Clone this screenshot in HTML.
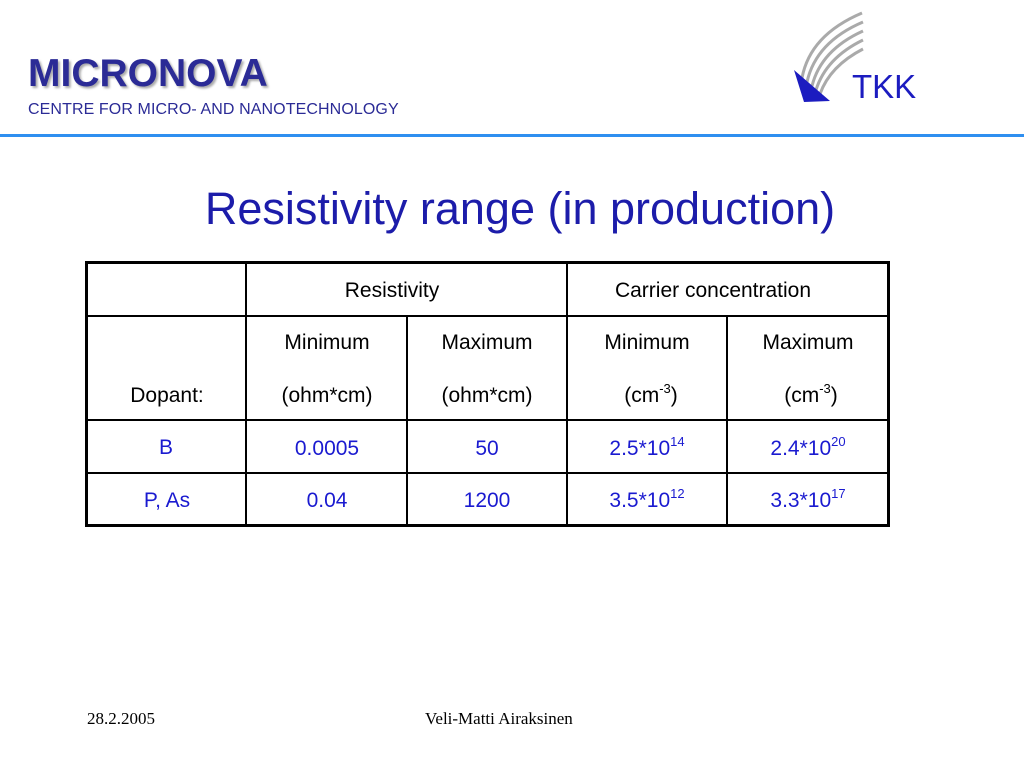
<!DOCTYPE html>
<html><head><meta charset="utf-8"><style>
body{margin:0;width:1024px;height:768px;background:#fff;position:relative;overflow:hidden;font-family:"Liberation Sans",Arial,sans-serif}
.a{position:absolute}
.t{position:absolute;font-size:21px;color:#000;text-align:center;white-space:nowrap;transform:translateX(-50%)}
.b{color:#1a1ad0}
.h{position:absolute;background:#000}
sup{font-size:13px;vertical-align:9px;line-height:0}
</style></head><body>
<div class="a" style="left:28px;top:52px;font-size:39px;font-weight:bold;color:#2b2b96;text-shadow:2px 2px 2px #aaa;letter-spacing:0px">MICRONOVA</div>
<div class="a" style="left:28px;top:101px;font-size:16px;color:#2b2b96;letter-spacing:0.1px;text-transform:uppercase">Centre for Micro- and Nanotechnology</div>
<div class="a" style="left:0;top:134px;width:1024px;height:3px;background:#2f8ff0"></div>
<svg class="a" style="left:790px;top:10px" width="75" height="95" viewBox="0 0 75 95">
<g fill="none" stroke="#aaa" stroke-width="3">
<path d="M12 68 Q20 25 72 3"/><path d="M17 72 Q26 32 73 12"/><path d="M22 76 Q31 40 73 21"/><path d="M26 80 Q36 48 73 30"/><path d="M30 84 Q40 56 73 39"/></g>
<polygon points="4,60 40,91 14,92" fill="#1c1cc0"/></svg>
<div class="a" style="left:852px;top:68px;font-size:33px;color:#1c1cc0">TKK</div>
<div class="a" style="left:0;width:1040px;top:183px;text-align:center;font-size:45px;color:#1c1caa">Resistivity range (in production)</div>

<div>
<div class="h" style="left:85px;top:261px;width:805px;height:3px"></div>
<div class="h" style="left:85px;top:315px;width:805px;height:2px"></div>
<div class="h" style="left:85px;top:419px;width:805px;height:2px"></div>
<div class="h" style="left:85px;top:472px;width:805px;height:2px"></div>
<div class="h" style="left:85px;top:524px;width:805px;height:3px"></div>
<div class="h" style="left:85px;top:261px;width:3px;height:266px"></div>
<div class="h" style="left:245px;top:261px;width:2px;height:266px"></div>
<div class="h" style="left:406px;top:315px;width:2px;height:212px"></div>
<div class="h" style="left:566px;top:261px;width:2px;height:266px"></div>
<div class="h" style="left:726px;top:315px;width:2px;height:212px"></div>
<div class="h" style="left:887px;top:261px;width:3px;height:266px"></div>

<div class="t" style="left:392px;top:279px">Resistivity</div>
<div class="t" style="left:713px;top:279px">Carrier concentration</div>
<div class="t" style="left:327px;top:331px">Minimum</div>
<div class="t" style="left:487px;top:331px">Maximum</div>
<div class="t" style="left:647px;top:331px">Minimum</div>
<div class="t" style="left:808px;top:331px">Maximum</div>
<div class="t" style="left:167px;top:384px">Dopant:</div>
<div class="t" style="left:327px;top:384px">(ohm*cm)</div>
<div class="t" style="left:487px;top:384px">(ohm*cm)</div>
<div class="t" style="left:651px;top:384px">(cm<sup>-3</sup>)</div>
<div class="t" style="left:811px;top:384px">(cm<sup>-3</sup>)</div>

<div class="t b" style="left:166px;top:436px">B</div>
<div class="t b" style="left:327px;top:437px">0.0005</div>
<div class="t b" style="left:487px;top:437px">50</div>
<div class="t b" style="left:647px;top:437px">2.5*10<sup>14</sup></div>
<div class="t b" style="left:808px;top:437px">2.4*10<sup>20</sup></div>
<div class="t b" style="left:167px;top:489px">P, As</div>
<div class="t b" style="left:327px;top:489px">0.04</div>
<div class="t b" style="left:487px;top:489px">1200</div>
<div class="t b" style="left:647px;top:489px">3.5*10<sup>12</sup></div>
<div class="t b" style="left:808px;top:489px">3.3*10<sup>17</sup></div>
</div>

<div class="a" style="left:87px;top:709px;font-family:'Liberation Serif',serif;font-size:17px">28.2.2005</div>
<div class="a" style="left:425px;top:709px;font-family:'Liberation Serif',serif;font-size:17px">Veli-Matti Airaksinen</div>
</body></html>
